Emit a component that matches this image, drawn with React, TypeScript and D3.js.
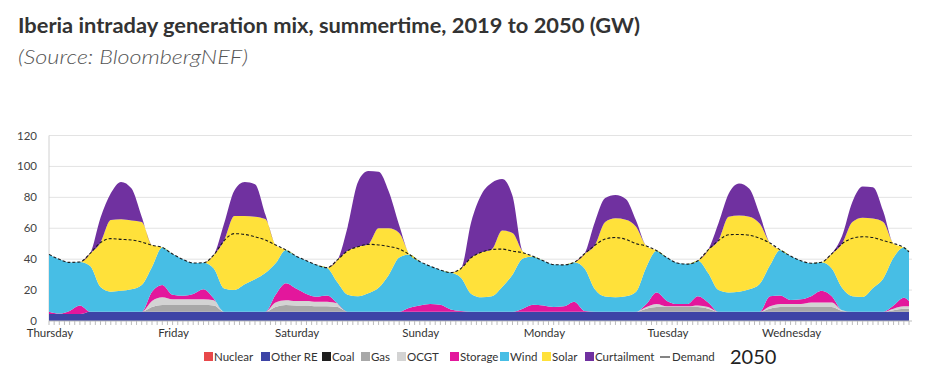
import React from "react";
import * as d3 from "d3";

// sample hours (every 2 h over one week, plus the last hour)
const hours = [...d3.range(0, 168, 2), 167];
const days = ["Thursday", "Friday", "Saturday", "Sunday", "Monday", "Tuesday", "Wednesday"];
const dayStartHours = [0, 24, 48, 72, 96, 120, 144];
const yTicks = [0, 20, 40, 60, 80, 100, 120];

const otherRE = [
  4.5, 4.5, 4.5, 4.5, 6, 6, 6, 6, 6, 6, 6, 6,
  6, 6, 6, 6, 6, 6, 6, 6, 6, 6, 6, 6,
  6, 6, 6, 6, 6, 6, 6, 6, 6, 6, 6, 6,
  6, 6, 6, 6, 6, 6, 6, 6, 6, 6, 6, 6,
  6, 6, 6, 6, 6, 6, 6, 6, 6, 6, 6, 6,
  6, 6, 6, 6, 6, 6, 6, 6, 6, 6, 6, 6,
  6, 6, 6, 6, 6, 6, 6, 6, 6, 6, 6, 6,
  6,
];
const gas = [
  0, 0, 0, 0, 0, 0, 0, 0, 0, 0, 3, 4.3,
  4.3, 4.3, 4.3, 4.3, 4, 0, 0, 0, 0, 0, 3, 4.3,
  4, 4, 3.5, 3.5, 3, 0, 0, 0, 0, 0, 0, 0,
  0, 0, 0, 0, 0, 0, 0, 0, 0, 0, 0, 0,
  0, 0, 0, 0, 0, 0, 0, 0, 0, 0, 2, 3,
  3, 3, 3, 3, 2, 0, 0, 0, 0, 0, 2, 3,
  3, 3, 3, 3, 3, 0.5, 0, 0, 0, 0, 1, 2,
  2,
];
const ocgt = [
  0, 0, 0, 0, 0, 0, 0, 0, 0, 0, 4, 5,
  3.7, 3.7, 3.7, 3.7, 3.5, 0, 0, 0, 0, 0, 3, 3.2,
  3, 3, 3, 3, 2.5, 0, 0, 0, 0, 0, 0, 0,
  0, 0, 0, 0, 0, 0, 0, 0, 0, 0, 0, 0,
  0, 0, 0, 0, 0, 0, 0, 0, 0, 0, 1, 2,
  0.5, 0.5, 0.5, 1, 1, 0, 0, 0, 0, 0, 1.5, 2,
  2, 2, 3, 3, 3, 0.5, 0, 0, 0, 0, 1, 1.5,
  1.5,
];
const storage = [
  1.5, 0.3, 2, 5.5, 0, 0, 0, 0, 0, 0, 6, 8,
  3, 2.4, 3.5, 6.5, 1, 0, 0, 0, 0, 0, 5, 11,
  8, 4.5, 3.2, 4, 0, 0, 0, 0, 0, 0, 0, 2.5,
  4, 5, 4.5, 1.5, 0.5, 0, 0, 0, 0, 0, 2, 4.5,
  4, 3, 3.5, 6.5, 0.5, 0, 0, 0, 0, 0, 2, 7.5,
  3.5, 1.5, 1.5, 6, 3, 0, 0, 0, 0, 0, 6.5, 5.5,
  2.6, 3, 4, 7.5, 4, 0, 0, 0, 0, 0, 2, 5.5,
  3.5,
];
const wind = [
  37.1, 35.1, 31.4, 28.2, 29.5, 16, 13, 13.6, 14.5, 17.3, 16, 24.3,
  26.3, 23.5, 20, 17.2, 19.5, 15, 14, 17.7, 21, 25, 20.3, 21.5,
  21, 21.5, 20.5, 18, 13.5, 11, 10, 12, 15.5, 24, 35, 34.5,
  28.5, 24.5, 22.5, 23.8, 21.5, 11.5, 9.3, 10, 16, 24, 32.5, 31.3,
  29, 27.5, 26.8, 25.5, 27.5, 14.5, 9.8, 9.3, 10, 13, 24, 27,
  28, 26.5, 25.8, 23, 19, 14, 12.5, 13, 14.5, 18, 20, 29.5,
  28.4, 25, 21.4, 18.5, 18, 14.5, 10, 9.5, 15.3, 21.5, 31, 32.5,
  31.8,
];
const solar = [
  0, 0, 0, 0, 8.3, 28.7, 46.3, 46.2, 44.5, 40.7, 14, 0,
  0, 0, 0, 0, 8.7, 31, 48, 44.3, 40.5, 35, 11.9, 0,
  0, 0, 0, 0, 14.5, 28.5, 32, 31.6, 38.5, 30, 16, 0,
  0, 0, 0, 0, 6, 23.5, 29.2, 30.3, 36.5, 27, 4.5, 0,
  0, 0, 0, 0, 9.5, 28.5, 48.2, 51.1, 49.5, 42, 13.5, 0,
  0, 0, 0, 0, 15, 32, 49, 49.3, 47, 39, 14.5, 0,
  0, 0, 0, 0, 9.5, 28.5, 48, 51.3, 45, 36.5, 9, 0,
  0,
];
const curtailment = [
  0, 0, 0, 0, 0, 16.1, 17.3, 24.2, 20.8, 3.5, 0, 0,
  0, 0, 0, 0, 0, 11, 16.5, 22, 21, 3, 0, 0,
  0, 0, 0, 0, 0, 15.5, 42, 47.4, 36.6, 23.6, 5, 0,
  0, 0, 0, 0, 0, 23.2, 37.5, 43.2, 33.3, 24, 0, 0,
  0, 0, 0, 0, 0, 15, 15.5, 15.1, 13.5, 4, 0, 0,
  0, 0, 0, 0, 0, 11.2, 15, 20.7, 18, 6, 0, 0,
  0, 0, 0, 0, 0, 5, 13, 20.2, 20.3, 7, 0, 0,
  0,
];
const demand = [
  43.1, 39.9, 37.9, 38.2, 43.8, 50.7, 53.3, 52.8, 52.4, 51.1, 49, 47.6,
  43.3, 39.9, 37.5, 37.7, 42.7, 52, 56.5, 56, 54.5, 52.4, 49.2, 46,
  42, 39, 36.2, 34.5, 39.5, 45.5, 48, 49.6, 49.2, 48.2, 46.6, 43,
  38.5, 35.5, 33, 31.3, 34, 41, 44.5, 46.3, 46.5, 45.2, 44.2, 41.8,
  39, 36.5, 36.3, 38, 43.5, 49, 53, 54, 52.8, 50, 48.5, 45.5,
  41, 37.5, 36.8, 39, 46, 52, 55.8, 56, 55.5, 53.5, 50.5, 46,
  42, 39, 37.4, 38, 43.5, 50, 53.5, 54.5, 54, 52, 50.2, 47.5,
  44.8,
];

const seriesKeys = ["otherRE", "gas", "ocgt", "storage", "wind", "solar", "curtailment"];
const seriesColors: Record<string, string> = {
  nuclear: "#E8484A",
  otherRE: "#3D44A6",
  coal: "#1E1E1E",
  gas: "#A8A8A8",
  ocgt: "#D3D3D3",
  storage: "#E3179C",
  wind: "#47BEE5",
  solar: "#FFE13A",
  curtailment: "#7031A0",
};
const legendLabels = ["Nuclear", "Other RE", "Coal", "Gas", "OCGT", "Storage", "Wind", "Solar", "Curtailment"];
const legendKeys = ["nuclear", "otherRE", "coal", "gas", "ocgt", "storage", "wind", "solar", "curtailment"];

export default function App() {
  const W = 932;
  const H = 383;
  const x = d3.scaleLinear().domain([0, 167]).range([49, 909]);
  const y = d3.scaleLinear().domain([0, 120]).range([321, 135.5]);

  const rows = hours.map((h, i) => ({
    h,
    otherRE: otherRE[i],
    gas: gas[i],
    ocgt: ocgt[i],
    storage: storage[i],
    wind: wind[i],
    solar: solar[i],
    curtailment: curtailment[i],
  }));
  const stacked = d3.stack<any>().keys(seriesKeys)(rows);
  const area = d3
    .area<any>()
    .x((d) => x(d.data.h))
    .y0((d) => y(d[0]))
    .y1((d) => y(d[1]))
    .curve(d3.curveMonotoneX);
  const line = d3
    .line<number>()
    .x((_, i) => x(hours[i]))
    .y((d) => y(d))
    .curve(d3.curveMonotoneX);

  const font = "Lato, 'Open Sans', sans-serif";
  const legendX = [204, 261, 322, 361, 397, 450, 500, 542, 585];

  return (
    <svg
      width={W}
      height={H}
      style={{ position: "absolute", left: 0, top: 0, background: "#fff" }}
      fontFamily={font}
    >
      <text x={18} y={33} fontSize={20} fontWeight={700} fill="#333" textLength={622} lengthAdjust="spacingAndGlyphs">
        Iberia intraday generation mix, summertime, 2019 to 2050 (GW)
      </text>
      <text x={18} y={64} fontSize={19} fontStyle="italic" fontWeight={300} fill="#555" textLength={230} lengthAdjust="spacingAndGlyphs">
        (Source: BloombergNEF)
      </text>

      {/* grid */}
      {yTicks.map((t) => (
        <g key={t}>
          {t > 0 && <line x1={49} x2={912} y1={y(t)} y2={y(t)} stroke="#E3E3E3" strokeWidth={1} />}
          <text x={37} y={y(t) + 4} fontSize={11.5} textAnchor="end" fill="#444">
            {t}
          </text>
        </g>
      ))}
      <line x1={49} x2={49} y1={y(120)} y2={y(0)} stroke="#D0D0D0" />

      {/* areas */}
      {stacked.map((s) => (
        <path key={s.key} d={area(s) || ""} fill={seriesColors[s.key]} stroke="none" />
      ))}

      {/* demand */}
      <path d={line(demand) || ""} fill="none" stroke="#1a1a1a" strokeWidth={1.1} strokeDasharray="3,2" />

      {/* x axis */}
      <line x1={49} x2={912} y1={y(0)} y2={y(0)} stroke="#BDBDBD" />
      {d3.range(0, 168).map((h) => (
        <line key={h} x1={x(h)} x2={x(h)} y1={y(0)} y2={y(0) + 4} stroke="#BDBDBD" />
      ))}
      {days.map((d, i) => (
        <text key={d} x={x(dayStartHours[i]) + 1} y={337} fontSize={11.5} textAnchor="middle" fill="#333">
          {d}
        </text>
      ))}

      {/* legend */}
      {legendLabels.map((lab, i) => (
        <g key={lab}>
          <rect x={legendX[i]} y={352} width={9} height={9} fill={seriesColors[legendKeys[i]]} />
          <text x={legendX[i] + 10} y={361} fontSize={11.5} fill="#333">
            {lab}
          </text>
        </g>
      ))}
      <line x1={660} x2={670} y1={357} y2={357} stroke="#333" strokeWidth={1.2} />
      <text x={672} y={361} fontSize={11.5} fill="#333">
        Demand
      </text>
      <text x={730} y={364} fontSize={20} fill="#222">
        2050
      </text>
    </svg>
  );
}
